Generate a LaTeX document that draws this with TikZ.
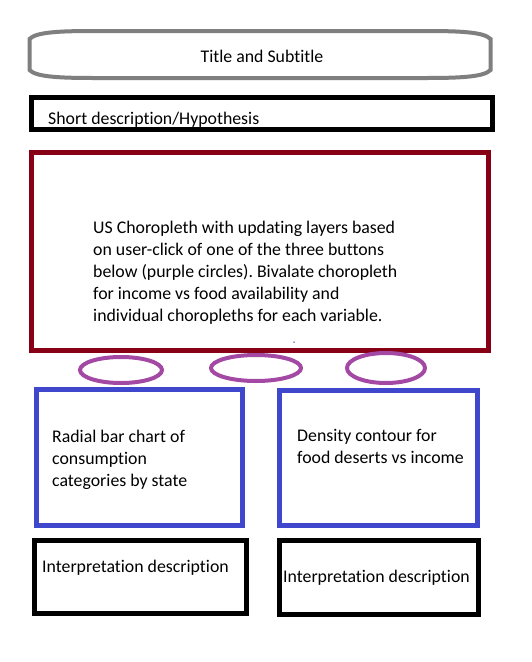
\documentclass[tikz,border=0pt]{standalone}
\usepackage{fontspec}
\setmainfont[Ligatures={NoCommon}]{Carlito}
\usetikzlibrary{shapes.geometric}
\definecolor{boxgray}{HTML}{7F7F7F}
\definecolor{maroon}{HTML}{880015}
\definecolor{btnpurple}{HTML}{A349A4}
\definecolor{boxblue}{HTML}{3F48CC}
\frenchspacing
\begin{document}
\begin{tikzpicture}[x=1pt,y=-1pt,
  box/.style={draw,rectangle,line width=5pt,inner sep=0pt},
  btn/.style={draw=btnpurple,ellipse,line width=4pt,inner sep=0pt},
  txt/.style={anchor=west,inner sep=0pt,align=left,font=\fontsize{17.8}{22}\selectfont}]
\useasboundingbox (0,0) rectangle (532,662);
\fill[white] (0,0) rectangle (532,662);
\draw[boxgray,line width=4pt] (29.5,39) .. controls (36,32) and (60,31) .. (95,31) -- (425,31)
  .. controls (460,31) and (484,32) .. (490.5,39) -- (490.5,70)
  .. controls (484,77) and (460,78) .. (425,78) -- (95,78)
  .. controls (60,78) and (36,77) .. (29.5,70) -- cycle;
\node[inner sep=0pt,font=\fontsize{17.8}{22}\selectfont] (titletxt) at (262,56) {Title and Subtitle};
\node[box,minimum width=461pt,minimum height=32pt] (hyp) at (262,113.5) {};
\node[txt] (hyptxt) at (48,119.5) {Short description/Hypothesis};
\node[box,draw=maroon,minimum width=457pt,minimum height=198pt] (map) at (260,251.5) {};
\node[txt] (maptxt) at (93,273) {US Choropleth with updating layers based\\on user-click of one of the three buttons\\below (purple circles). Bivalate choropleth\\for income vs food availability and\\individual choropleths for each variable.};
\node[circle,fill=boxblue!70!black,inner sep=0pt,minimum size=1.5pt] (dot) at (294,342) {};
\node[btn,minimum width=82pt,minimum height=26pt] (b1) at (121,370) {};
\node[btn,minimum width=90pt,minimum height=26pt] (b2) at (256,368) {};
\node[btn,minimum width=78pt,minimum height=30pt] (b3) at (386,368) {};
\node[box,draw=boxblue,minimum width=206pt,minimum height=136pt] (radial) at (139.5,457.5) {};
\node[txt] (radialtxt) at (52,459.5) {Radial bar chart of\\consumption\\categories by state};
\node[box,draw=boxblue,minimum width=198pt,minimum height=135pt] (density) at (378.5,458) {};
\node[txt] (densitytxt) at (297,446.5) {Density contour for\\food deserts vs income};
\node[box,minimum width=212pt,minimum height=73pt] (int1) at (140.5,577) {};
\node[txt] (int1txt) at (42,567.5) {Interpretation description};
\node[box,minimum width=199pt,minimum height=74pt] (int2) at (379,577.5) {};
\node[txt] (int2txt) at (283,577.5) {Interpretation description};
\end{tikzpicture}
\end{document}
